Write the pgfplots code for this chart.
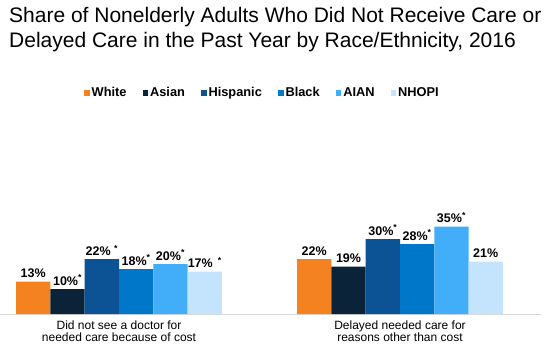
\documentclass[border=0pt]{standalone}
\usepackage{pgfplots}
\pgfplotsset{compat=1.18}
\usepackage{fontspec}
\setmainfont{Liberation Sans}
\definecolor{cWhite}{HTML}{F58220}
\definecolor{cAsian}{HTML}{0B2339}
\definecolor{cHisp}{HTML}{0B5394}
\definecolor{cBlack}{HTML}{0077C8}
\definecolor{cAIAN}{HTML}{42ADF8}
\definecolor{cNHOPI}{HTML}{C4E3FD}
\definecolor{lineGray}{HTML}{D9D9D9}
\newcommand{\sig}{\textsuperscript{*}}
\begin{document}
\begin{tikzpicture}[x=1pt,y=1pt]
\useasboundingbox (0,0) rectangle (545,356);
\begin{axis}[
  at={(0pt,42pt)}, anchor=south west,
  scale only axis, width=541pt, height=100pt,
  xmin=-0.4235, xmax=1.5018, ymin=0, ymax=40,
  ybar=0pt, bar width=34.3pt,
  axis x line=bottom, axis y line=none,
  x axis line style={draw=lineGray, line width=0.8pt, -},
  xtick={0,1},
  xticklabels={{Did not see a doctor for\\needed care because of cost},{Delayed needed care for\\reasons other than cost}},
  xticklabel style={align=center, font=\fontsize{12}{12.7}\selectfont, yshift=-3pt},
  major tick length=0pt, ytick=\empty,
  clip=false,
  nodes near coords, point meta=explicit symbolic,
  every node near coord/.append style={font=\bfseries\fontsize{12.5}{14}\selectfont, yshift=0pt, black},
  legend columns=6,
  legend style={at={(0.485,2.21)}, anchor=center, draw=none, fill=none,
    font=\bfseries\fontsize{12.8}{14}\selectfont,
    /tikz/every even column/.append style={column sep=14pt}},
  legend image code/.code={\path[#1,draw=none] (0pt,-2.8pt) rectangle (5.6pt,2.8pt);},
]
\addplot[fill=cWhite, draw=none] coordinates {(0,13) [13\%] (1,22) [22\%]};
\addplot[fill=cAsian, draw=none] coordinates {(0,10) [10\%\sig] (1,19) [19\%]};
\addplot[fill=cHisp, draw=none] coordinates {(0,22) [22\%\ \sig] (1,30) [30\%\sig]};
\addplot[fill=cBlack, draw=none] coordinates {(0,18) [18\%\sig] (1,28) [28\%\sig]};
\addplot[fill=cAIAN, draw=none] coordinates {(0,20) [20\%\sig] (1,35) [35\%\sig]};
\addplot[fill=cNHOPI, draw=none] coordinates {(0,17) [17\%\hspace{5pt}\sig] (1,21) [21\%]};
\legend{White,Asian,Hispanic,Black,AIAN,NHOPI}
\end{axis}
\node[anchor=base west, inner sep=0pt, font=\fontsize{21}{26}\selectfont] at (9,333) {Share of Nonelderly Adults Who Did Not Receive Care or};
\node[anchor=base west, inner sep=0pt, font=\fontsize{21}{26}\selectfont] at (9,308) {Delayed Care in the Past Year by Race/Ethnicity, 2016};
\end{tikzpicture}
\end{document}
